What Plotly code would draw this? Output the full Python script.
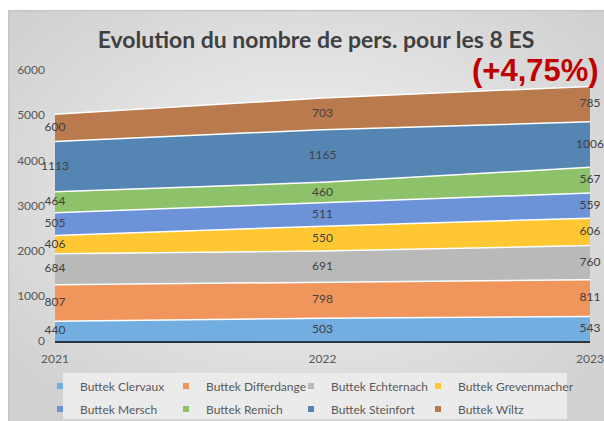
"""
Evolution du nombre de personnes pour les 8 ES (aires empilées)
"""
import base64
import plotly.graph_objects as go

# Données
years = [2021, 2022, 2023]
series_names = [
    "Buttek Clervaux", "Buttek Differdange", "Buttek Echternach", "Buttek Grevenmacher",
    "Buttek Mersch", "Buttek Remich", "Buttek Steinfort", "Buttek Wiltz",
]
clervaux = [440, 503, 543]
differdange = [807, 798, 811]
echternach = [684, 691, 760]
grevenmacher = [406, 550, 606]
mersch = [505, 511, 559]
remich = [464, 460, 567]
steinfort = [1113, 1165, 1006]
wiltz = [600, 703, 785]
y_ticks = [0, 1000, 2000, 3000, 4000, 5000, 6000]
badge = "(+4,75%)"

series_values = [clervaux, differdange, echternach, grevenmacher,
                 mersch, remich, steinfort, wiltz]
colors = ["#72aee0", "#f0955c", "#b9b9b9", "#ffc832",
          "#6c93d8", "#8dc16a", "#5485b3", "#b97a4d"]

W, H = 604, 421
L, R, T, B = 55, 14, 70, 80
pw = W - L - R
ph = H - T - B


def px_x(px):
    return (px - L) / pw


def px_y(py):
    return (H - B - py) / ph


# fond dégradé (style Excel)
svg = (
    '<svg xmlns="http://www.w3.org/2000/svg" width="596" height="411" preserveAspectRatio="none">'
    '<defs><radialGradient id="g" cx="50%" cy="45%" r="65%">'
    '<stop offset="0%" stop-color="#f4f4f4"/>'
    '<stop offset="100%" stop-color="#d0d0d0"/>'
    '</radialGradient></defs>'
    '<rect x="0.5" y="0.5" width="600" height="420" fill="url(#g)" stroke="#c4c4c4" stroke-width="1.5"/>'
    '</svg>'
)
bg_src = "data:image/svg+xml;base64," + base64.b64encode(svg.encode()).decode()

fig = go.Figure()

for name, vals, col in zip(series_names, series_values, colors):
    fig.add_trace(go.Scatter(
        x=years, y=vals, name=name,
        mode="lines", stackgroup="one",
        line=dict(color="white", width=1.5),
        fillcolor=col, showlegend=False, hoverinfo="x+y+name"
    ))

# étiquettes au milieu de chaque bande
base = [0, 0, 0]
for vals in series_values:
    mids = [b + v / 2 for b, v in zip(base, vals)]
    fig.add_trace(go.Scatter(
        x=years, y=mids, mode="text",
        text=[str(v) for v in vals],
        textposition="middle center",
        textfont=dict(family="Lato", size=12, color="#404040"),
        cliponaxis=False, showlegend=False, hoverinfo="skip"
    ))
    base = [b + v for b, v in zip(base, vals)]

# légende : une entrée par légende pour placer chaque case comme dans Excel
col_x = [40, 166, 291, 418]
row_y = [386, 409]
legends = {}
for i, (name, col) in enumerate(zip(series_names, colors)):
    key = "legend" if i == 0 else f"legend{i + 1}"
    fig.add_trace(go.Scatter(
        x=[None], y=[None], mode="markers", name=name,
        marker=dict(symbol="square", size=6, color=col),
        showlegend=True, legend=key
    ))
    legends[key] = dict(
        xref="container", yref="container",
        x=col_x[i % 4] / W, y=1 - row_y[i // 4] / H,
        xanchor="left", yanchor="middle",
        bgcolor="rgba(0,0,0,0)", itemwidth=30,
        font=dict(family="Lato", size=12, color="#595959")
    )

# fond de la légende
fig.add_shape(
    type="rect", xref="paper", yref="paper",
    x0=px_x(63), x1=px_x(567), y0=px_y(373), y1=px_y(419),
    fillcolor="#ebebeb", line=dict(width=0), layer="below"
)

fig.add_annotation(
    text=badge, xref="paper", yref="paper",
    x=px_x(601), y=px_y(70), xanchor="right", yanchor="middle",
    showarrow=False,
    font=dict(family="Liberation Sans", size=31, color="#c00000", weight="bold")
)

fig.add_layout_image(
    source=bg_src, xref="paper", yref="paper",
    x=px_x(8), y=px_y(10), sizex=(W - 8) / pw, sizey=(H - 10) / ph,
    xanchor="left", yanchor="top", sizing="stretch", layer="below"
)

fig.update_layout(
    width=W, height=H,
    margin=dict(l=L, r=R, t=T, b=B, autoexpand=False),
    paper_bgcolor="white",
    plot_bgcolor="rgba(0,0,0,0)",
    title=dict(
        text="Evolution du nombre de pers. pour les 8 ES",
        x=316 / W, xanchor="center", y=1 - 40 / H, yanchor="middle",
        font=dict(family="Lato", size=23, color="#404040", weight="bold")
    ),
    xaxis=dict(
        range=[2021, 2023], tickvals=years, ticktext=[str(y) for y in years],
        showgrid=False, zeroline=False,
        showline=True, linecolor="#2b3340", linewidth=2,
        ticklabelstandoff=6,
        tickfont=dict(family="Lato", size=12, color="#595959")
    ),
    yaxis=dict(
        range=[0, 6000], tickvals=y_ticks,
        showgrid=True, gridcolor="#cfcfcf", gridwidth=1,
        zeroline=False, showline=False,
        ticklabelstandoff=9,
        tickfont=dict(family="Lato", size=12, color="#595959")
    ),
    showlegend=True,
    **legends
)

fig.write_html(
    "out.html",
    config={"displayModeBar": False},
    post_script="document.body.style.margin='0';"
)
